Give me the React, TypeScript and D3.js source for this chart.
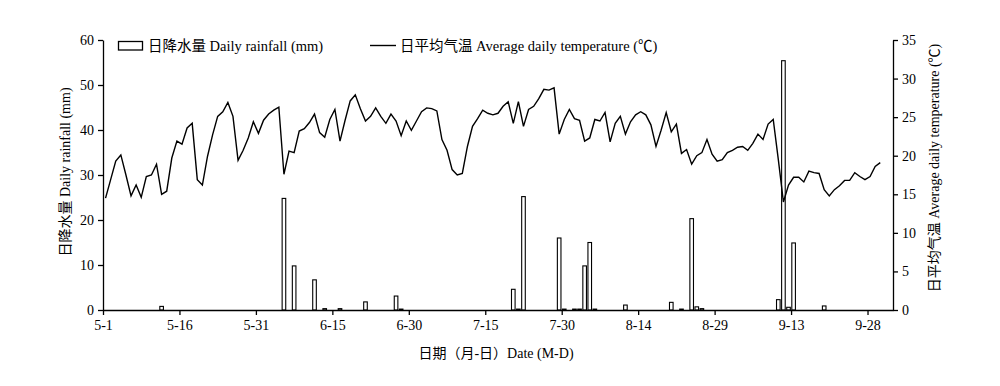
import React, { useEffect, useRef } from "react";
import * as d3 from "d3";

const tickDays = [0, 15, 30, 45, 60, 75, 90, 105, 120, 135, 150];
const tickLabels = ["5-1", "5-16", "5-31", "6-15", "6-30", "7-15", "7-30", "8-14", "8-29", "9-13", "9-28"];
const rainTicks = [0, 10, 20, 30, 40, 50, 60];
const tempTicks = [0, 5, 10, 15, 20, 25, 30, 35];

const tempValues = [
  14.5, 16.9, 19.3, 20.1, 17.5, 14.8, 16.2, 14.6, 17.3, 17.5,
  18.9, 15.0, 15.4, 19.7, 21.9, 21.5, 23.6, 24.2, 16.9, 16.2,
  19.9, 22.7, 25.1, 25.7, 26.9, 25.1, 19.4, 20.7, 22.3, 24.4,
  22.9, 24.6, 25.4, 25.9, 26.3, 17.6, 20.6, 20.4, 23.2, 23.5,
  24.3, 25.4, 23.0, 22.4, 24.7, 26.0, 21.9, 24.6, 27.1, 27.9,
  26.1, 24.5, 25.1, 26.2, 25.1, 24.2, 25.4, 24.5, 22.6, 24.5,
  23.3, 24.5, 25.7, 26.2, 26.1, 25.8, 22.1, 20.7, 18.2, 17.5,
  17.7, 21.2, 23.8, 24.8, 25.9, 25.5, 25.3, 25.5, 26.4, 27.0,
  24.2, 27.0, 23.8, 26.0, 26.4, 27.4, 28.6, 28.5, 28.8, 22.8,
  24.7, 26.0, 24.8, 24.6, 21.9, 22.3, 24.7, 24.5, 25.6, 21.8,
  24.2, 25.1, 22.8, 24.4, 25.3, 25.7, 25.3, 24.0, 21.2, 23.3,
  25.6, 23.1, 24.1, 20.3, 20.8, 18.9, 20.0, 20.4, 22.1, 20.2,
  19.3, 19.5, 20.4, 20.7, 21.1, 21.2, 20.7, 21.6, 22.8, 22.1,
  24.1, 24.7, 19.5, 14.0, 16.2, 17.2, 17.2, 16.6, 18.0, 17.8,
  17.7, 15.6, 14.8, 15.6, 16.1, 16.8, 16.8, 17.8, 17.3, 16.9,
  17.3, 18.6, 19.1,
];

const rainDays = [11, 35, 37, 41, 43, 46, 51, 57, 58, 80, 81, 82, 89, 90, 92, 93, 94, 95, 96, 102, 111, 113, 115, 116, 117, 132, 133, 134, 135, 141];
const rainValues = [0.8, 24.8, 9.8, 6.7, 0.3, 0.3, 1.8, 3.1, 0.2, 4.6, 0.2, 25.2, 16.0, 0.2, 0.2, 0.2, 9.8, 15.0, 0.2, 1.1, 1.7, 0.2, 20.3, 0.7, 0.3, 2.3, 55.4, 0.6, 14.9, 0.9];

const FONT = "'Liberation Serif', 'Times New Roman', 'Noto Sans CJK SC', serif";

export default function App() {
  const ref = useRef<SVGSVGElement | null>(null);

  useEffect(() => {
    const svg = d3.select(ref.current);
    svg.selectAll("*").remove();

    const left = 103, right = 893, top = 40, bottom = 310;
    const x = d3.scaleLinear().domain([0, 155]).range([left, right]);
    const yL = d3.scaleLinear().domain([0, 60]).range([bottom, top]);
    const yR = d3.scaleLinear().domain([0, 35]).range([bottom, top]);

    const g = svg.append("g").attr("font-family", FONT).attr("fill", "#000");

    // bars
    const bw = 3.6;
    g.append("g")
      .selectAll("rect")
      .data(rainDays.map((d, i) => ({ d, v: rainValues[i] })))
      .join("rect")
      .attr("x", (p) => x(p.d + 0.5) - bw / 2)
      .attr("y", (p) => yL(p.v))
      .attr("width", bw)
      .attr("height", (p) => yL(0) - yL(p.v))
      .attr("fill", "#fff")
      .attr("stroke", "#000")
      .attr("stroke-width", 1.1);

    // line
    const line = d3
      .line<number>()
      .x((_, i) => x(i + 0.5))
      .y((v) => yR(v));
    g.append("path")
      .datum(tempValues)
      .attr("d", line)
      .attr("fill", "none")
      .attr("stroke", "#000")
      .attr("stroke-width", 1.4)
      .attr("stroke-linejoin", "miter");

    // left axis
    const la = g.append("g").attr("transform", `translate(${left},0)`).call(
      d3.axisLeft(yL).tickValues(rainTicks).tickSize(5).tickSizeOuter(0).tickPadding(4)
    );
    // right axis
    const ra = g.append("g").attr("transform", `translate(${right},0)`).call(
      d3.axisRight(yR).tickValues(tempTicks).tickSize(5).tickSizeOuter(0).tickPadding(4)
    );
    // bottom axis
    const ba = g.append("g").attr("transform", `translate(0,${bottom})`).call(
      d3
        .axisBottom(x)
        .tickValues(tickDays)
        .tickFormat((_, i) => tickLabels[i])
        .tickSize(5)
        .tickSizeOuter(0)
        .tickPadding(5)
    );
    [la, ra, ba].forEach((a) => {
      a.attr("font-family", FONT).attr("font-size", 14);
      a.selectAll("path").attr("stroke", "#000").attr("stroke-width", 1.3);
      a.selectAll("line").attr("stroke", "#000").attr("stroke-width", 1.3);
      a.selectAll("text").attr("fill", "#000");
    });

    // legend
    g.append("rect")
      .attr("x", 118.5)
      .attr("y", 41.5)
      .attr("width", 24)
      .attr("height", 8.5)
      .attr("fill", "#fff")
      .attr("stroke", "#000")
      .attr("stroke-width", 1.3);
    g.append("text").attr("x", 148).attr("y", 51).attr("font-size", 14.5).text("日降水量 Daily rainfall (mm)");
    g.append("line")
      .attr("x1", 370)
      .attr("x2", 396)
      .attr("y1", 45.5)
      .attr("y2", 45.5)
      .attr("stroke", "#000")
      .attr("stroke-width", 1.4);
    g.append("text").attr("x", 400).attr("y", 51).attr("font-size", 14.5).text("日平均气温 Average daily temperature (℃)");

    // axis titles
    g.append("text")
      .attr("transform", `translate(70,172) rotate(-90)`)
      .attr("text-anchor", "middle")
      .attr("font-size", 14)
      .text("日降水量 Daily rainfall (mm)");
    g.append("text")
      .attr("transform", `translate(939,168) rotate(-90)`)
      .attr("text-anchor", "middle")
      .attr("font-size", 14)
      .text("日平均气温 Average daily temperature (℃)");
    g.append("text")
      .attr("x", 496)
      .attr("y", 358)
      .attr("text-anchor", "middle")
      .attr("font-size", 14)
      .text("日期（月-日）Date (M-D)");
  }, []);

  return (
    <svg
      ref={ref}
      width={1000}
      height={386}
      style={{ position: "absolute", left: 0, top: 0, display: "block", background: "#fff" }}
    />
  );
}
